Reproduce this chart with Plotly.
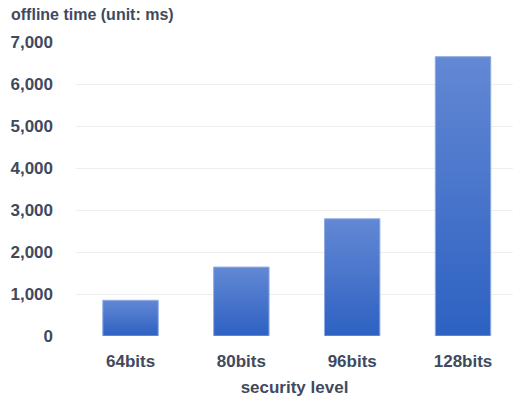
import plotly.graph_objects as go

# Offline computation time per security level
levels = ["64bits", "80bits", "96bits", "128bits"]
offline_ms = [850, 1640, 2790, 6650]
y_ticks = [0, 1000, 2000, 3000, 4000, 5000, 6000, 7000]

TEXT = "#3f4a5e"
FONT = "Liberation Sans, Arial, sans-serif"
half_w = 0.25

fig = go.Figure()
for i, (lvl, v) in enumerate(zip(levels, offline_ms)):
    fig.add_trace(go.Scatter(
        x=[i - half_w, i + half_w, i + half_w, i - half_w, i - half_w],
        y=[0, 0, v, v, 0],
        mode="lines",
        fill="toself",
        fillgradient=dict(
            type="vertical",
            colorscale=[[0, "#2d61c2"], [1, "#6388d4"]],
        ),
        line=dict(color="#8eaadf", width=1),
        name=lvl,
        hoverinfo="skip",
        showlegend=False,
    ))

fig.update_layout(
    width=515,
    height=397,
    margin=dict(l=76, r=2, t=42, b=61),
    paper_bgcolor="white",
    plot_bgcolor="white",
    font=dict(family=FONT, color=TEXT, size=17),
    showlegend=False,
    xaxis=dict(
        range=[-0.492, 3.451],
        tickvals=list(range(len(levels))),
        ticktext=levels,
        showgrid=False,
        zeroline=False,
        showline=False,
        ticks="",
        automargin=False,
        ticklabelstandoff=13,
        tickfont=dict(family=FONT, size=17, color=TEXT, weight="bold"),
        title=dict(
            text="security level",
            font=dict(family=FONT, size=17, color=TEXT, weight="bold"),
            standoff=13,
        ),
        fixedrange=True,
    ),
    yaxis=dict(
        range=[0, 7000],
        tickvals=y_ticks,
        tickformat=",d",
        showgrid=True,
        gridcolor="#eeeeee",
        gridwidth=1,
        zeroline=False,
        showline=False,
        ticks="",
        automargin=False,
        ticklabelstandoff=22,
        tickfont=dict(family=FONT, size=17, color=TEXT, weight="bold"),
        fixedrange=True,
    ),
    annotations=[dict(
        text="offline time (unit: ms)",
        xref="paper", yref="paper",
        x=0, y=1,
        xshift=-67, yshift=17,
        xanchor="left", yanchor="bottom",
        showarrow=False,
        font=dict(family=FONT, size=16, color=TEXT, weight="bold"),
    )],
)

fig.write_html("out.html")
